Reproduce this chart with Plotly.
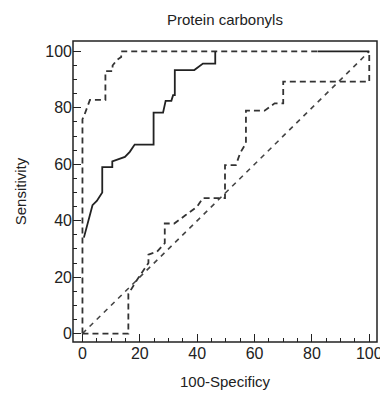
import plotly.graph_objects as go

# ROC curve (solid)
roc_x = [0.5, 1.5, 3.5, 5, 6.9, 6.9, 10.4, 10.4, 14.8, 16.5, 18.2, 24.8, 24.8, 28.1, 29, 31, 31.6, 32.2, 32.2, 39, 42, 46.3, 46.3, None, 82, 100]
roc_y = [34, 38, 45.5, 47, 50, 59, 59, 61, 62.6, 64.4, 67, 67, 78.3, 78.3, 82.5, 82.5, 84.5, 84.5, 93.4, 93.4, 95.7, 95.7, 100, None, 100, 100]

# upper confidence bound (dashed)
upper_x = [0, 0, 0.5, 2.6, 8, 8, 10.5, 10.5, 12, 13.5, 13.5, 82]
upper_y = [0, 76, 77, 82.8, 82.8, 93, 93, 95, 97, 98, 100, 100]

# lower confidence bound (dashed)
lower_x = [0, 16, 16, 19, 23, 23, 26, 28.7, 28.7, 32, 36, 40, 42, 49.7, 49.7, 53.5, 55, 57, 57, 63.5, 67, 70, 70, 100, 100]
lower_y = [0, 0, 14, 19, 25, 28, 29, 32, 39, 39, 42, 45, 48, 48, 59.7, 59.7, 64, 67.5, 79, 79, 81.6, 81.6, 89.3, 89.3, 100]

# reference diagonal
diag_x = [0, 100]
diag_y = [0, 100]

x_ticks = [0, 20, 40, 60, 80, 100]
y_ticks = [0, 20, 40, 60, 80, 100]

fig = go.Figure()
fig.add_trace(go.Scatter(x=diag_x, y=diag_y, mode="lines",
                         line=dict(color="#444444", width=1.6, dash="5px,5px")))
fig.add_trace(go.Scatter(x=lower_x, y=lower_y, mode="lines",
                         line=dict(color="#333333", width=1.8, dash="6px,4px")))
fig.add_trace(go.Scatter(x=upper_x, y=upper_y, mode="lines",
                         line=dict(color="#333333", width=1.8, dash="6px,4px")))
fig.add_trace(go.Scatter(x=roc_x, y=roc_y, mode="lines",
                         line=dict(color="#222222", width=1.8)))

font_family = "Liberation Sans, Arial, sans-serif"
axis_common = dict(
    showgrid=False, zeroline=False, showline=False, automargin=False,
    ticks="inside", ticklen=8, tickwidth=1.3, ticklabeloverflow="allow",
    tickcolor="#222222", tickfont=dict(size=16, color="#222222", family=font_family),
)
fig.update_xaxes(range=[-3.3, 102.7], tickvals=x_ticks, ticktext=[str(v) for v in x_ticks],
                 minor=dict(ticks="inside", dtick=5, ticklen=4, tickwidth=1.2, tickcolor="#222222"),
                 title=dict(text="100-Specificy", font=dict(size=15, color="#222222", family=font_family), standoff=15),
                 **axis_common)
fig.update_yaxes(range=[-3.0, 103.7], tickvals=y_ticks, ticktext=[str(v) for v in y_ticks],
                 minor=dict(ticks="inside", dtick=5, ticklen=4, tickwidth=1.2, tickcolor="#222222"),
                 title=dict(text="Sensitivity", font=dict(size=15, color="#222222", family=font_family), standoff=15),
                 **axis_common)

# plot frame
fig.add_shape(type="rect", xref="paper", yref="paper", x0=0, y0=0, x1=1, y1=1,
              line=dict(color="#222222", width=1.5), fillcolor="rgba(0,0,0,0)", layer="above")

fig.update_layout(
    width=380, height=396,
    margin=dict(l=73, r=3, t=41, b=54),
    paper_bgcolor="white", plot_bgcolor="white",
    showlegend=False,
    title=dict(text="Protein carbonyls", x=0.592, xanchor="center", y=1 - 20 / 396, yanchor="middle",
               font=dict(size=15, color="#222222", family=font_family)),
)

fig.write_html("out.html", config={"displayModeBar": False},
               post_script="document.body.style.margin='0';document.body.style.overflow='hidden';")
